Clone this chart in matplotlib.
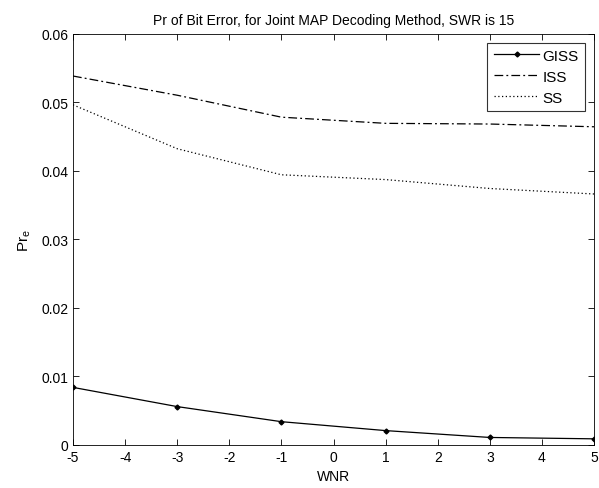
import matplotlib
matplotlib.use("Agg")
import matplotlib.pyplot as plt

wnr = [-5, -3, -1, 1, 3, 5]
giss = [0.0084, 0.0056, 0.0034, 0.0021, 0.0011, 0.0009]
iss = [0.0538, 0.0510, 0.0478, 0.0469, 0.0468, 0.0464]
ss = [0.0496, 0.0432, 0.0394, 0.0387, 0.0374, 0.0366]
xticks = list(range(-5, 6))
yticks = [0, 0.01, 0.02, 0.03, 0.04, 0.05, 0.06]
ytick_labels = ["0", "0.01", "0.02", "0.03", "0.04", "0.05", "0.06"]

plt.rcParams['font.family'] = ['Liberation Sans', 'DejaVu Sans']
fig = plt.figure(figsize=(5.99, 4.89), dpi=100)
# axes: left 73px, right 594px, top 34.5px, bottom 446px
ax = fig.add_axes([73/599, 1-446/489, (594-73)/599, (446-34.5)/489])

ax.plot(wnr, giss, color='black', lw=0.9, marker='D', markersize=2.5, label='GISS')
ax.plot(wnr, iss, color='black', lw=0.9, linestyle=(0, (7, 2.5, 1.5, 2.5)), label='ISS')
ax.plot(wnr, ss, color='black', lw=0.9, linestyle=(0, (1, 2)), label='SS')

ax.set_xlim(-5, 5)
ax.set_ylim(0, 0.06)
ax.set_xticks(xticks)
ax.set_xticklabels([str(v) for v in xticks])
ax.set_yticks(yticks)
ax.set_yticklabels(ytick_labels)
ax.tick_params(direction='in', top=True, right=True, labelsize=10, length=4, width=0.6)
for s in ax.spines.values():
    s.set_linewidth(0.6)
ax.set_xlabel('WNR', fontsize=10, labelpad=4)
ax.set_ylabel('Pr$_\\mathregular{e}$', fontsize=11, labelpad=6)
ax.set_title('Pr of Bit Error, for Joint MAP Decoding Method, SWR is 15', fontsize=10, pad=7)
leg = ax.legend(loc='upper right', fontsize=11, frameon=True, fancybox=False,
                edgecolor='black', handlelength=3.0, handletextpad=0.2,
                borderaxespad=0.6, labelspacing=0.45, borderpad=0.4)
leg.get_frame().set_linewidth(0.8)

fig.savefig('out.png', dpi=100)
